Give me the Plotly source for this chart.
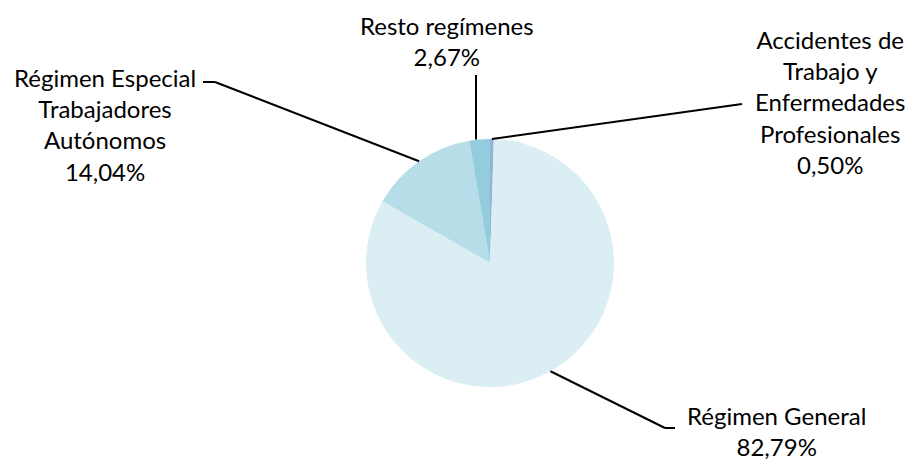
import math
import plotly.graph_objects as go

etiquetas = ["Accidentes de Trabajo y Enfermedades Profesionales", "Régimen General",
             "Régimen Especial Trabajadores Autónomos", "Resto regímenes"]
textos = ["Accidentes de<br>Trabajo y<br>Enfermedades<br>Profesionales",
          "Régimen General", "Régimen Especial<br>Trabajadores<br>Autónomos",
          "Resto regímenes"]
valores = [0.50, 82.79, 14.04, 2.67]
colores = ["#95B3D7", "#DBEEF3", "#B7DEE8", "#93CDDD"]

W, H = 909, 460
cx, cy, r = 490, 263, 124

# posicion de cada etiqueta (centro, px) y recorrido de la linea guia (px)
pos_texto = [(830, 102), (776, 431), (105, 124), (447, 41)]
codo = [[(742, 104)], [(665, 428), (675, 428)], [(215, 82), (203, 82)], [(476, 75)]]


def px(x, y):
    return x / W, 1 - y / H


fig = go.Figure(go.Pie(
    labels=etiquetas, values=valores, sort=False, direction="clockwise",
    rotation=0, marker=dict(colors=colores, line=dict(width=0)),
    textinfo="none", hoverinfo="label+percent", showlegend=False,
    domain=dict(x=[(cx - r) / W, (cx + r) / W], y=[1 - (cy + r) / H, 1 - (cy - r) / H]),
))

total = sum(valores)
acum = 0
anotaciones = []
formas = []
for i, v in enumerate(valores):
    medio = (acum + v / 2) / total * 2 * math.pi
    acum += v
    x0, y0 = cx + r * math.sin(medio), cy - r * math.cos(medio)
    if i == 3:
        x0 = codo[i][0][0]
    puntos = [(x0, y0)] + codo[i]
    for (a, b), (c, d) in zip(puntos[:-1], puntos[1:]):
        xa, ya = px(a, b)
        xc, yc = px(c, d)
        formas.append(dict(type="line", xref="paper", yref="paper", x0=xa, y0=ya, x1=xc, y1=yc,
                           line=dict(color="black", width=2)))
    tx, ty = px(*pos_texto[i])
    pct = f"{v:.2f}".replace(".", ",") + "%"
    anotaciones.append(dict(x=tx, y=ty, xref="paper", yref="paper", showarrow=False,
                            text=textos[i] + "<br>" + pct, align="center",
                            xanchor="center", yanchor="middle",
                            font=dict(family="Lato", size=24, color="black")))

fig.update_layout(width=W, height=H, margin=dict(l=0, r=0, t=0, b=0),
                  paper_bgcolor="white", plot_bgcolor="white",
                  annotations=anotaciones, shapes=formas)
fig.write_html("out.html", config={"displayModeBar": False},
               post_script="document.body.style.margin='0';")
